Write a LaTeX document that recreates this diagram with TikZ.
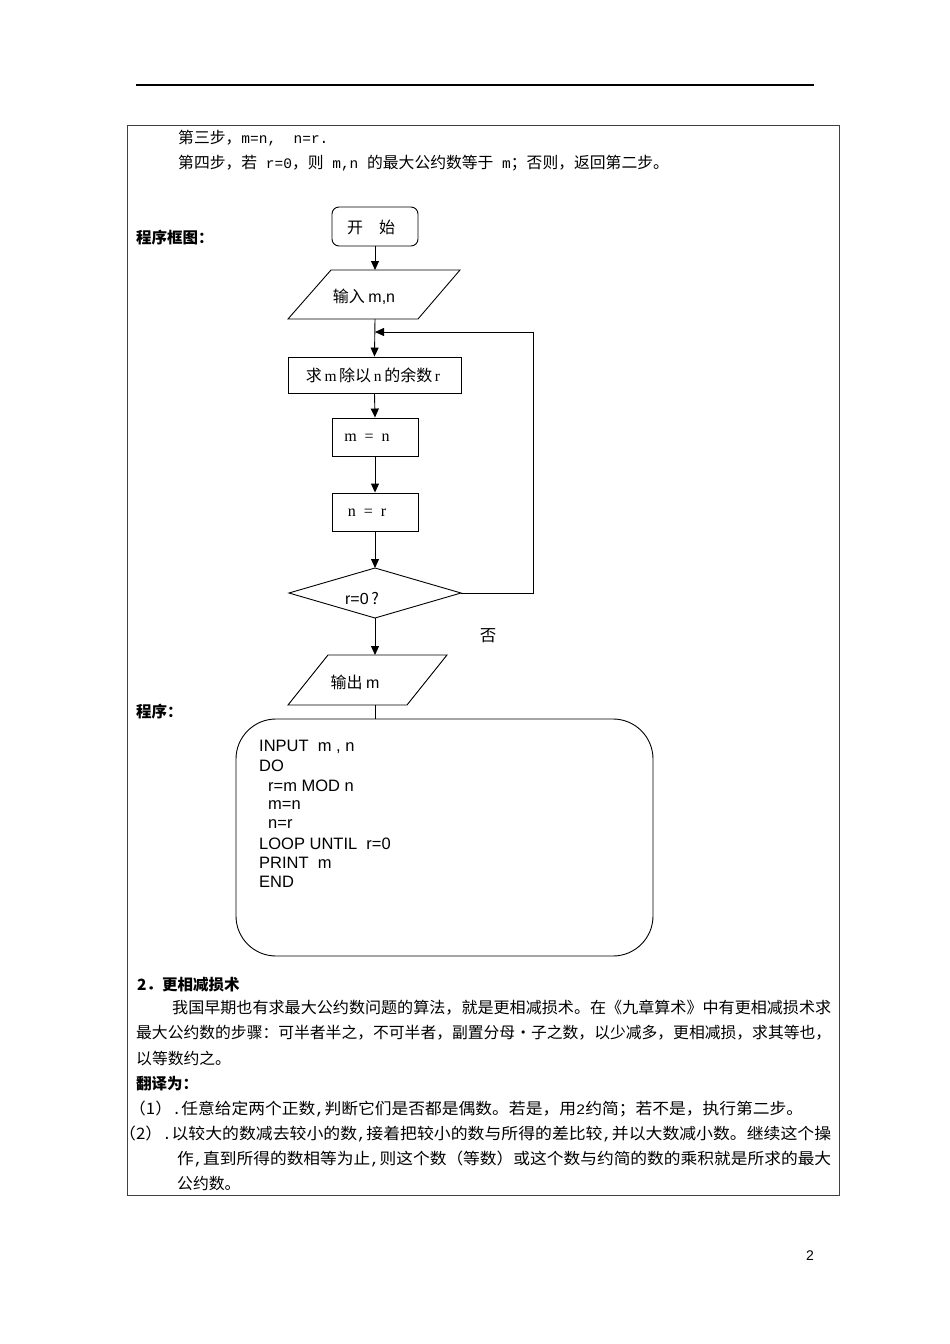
\documentclass[tikz,border=0pt]{standalone}
\usepackage{fontspec}
\setmainfont{Liberation Sans}
\newfontfamily\cjk{Noto Sans CJK SC}
\newfontfamily\lserif{Liberation Serif}
\newfontfamily\lmono{Liberation Mono}
\usetikzlibrary{arrows.meta}
\newsavebox\lbox
\newcommand\fitw[2]{\sbox\lbox{#2}\pgfmathsetmacro\fitr{#1/\the\wd\lbox}\scalebox{\fitr}[1]{\usebox\lbox}}
\newcommand\mylat[1]{{\lmono\fontsize{14.5}{18}\selectfont #1}}
\newcommand\fclat[1]{{\lserif\fontsize{15.5}{18}\selectfont #1}}
\begin{document}
\begin{tikzpicture}[x=1pt,y=-1pt,
  shp/.style={draw, line width=0.9pt},
  box/.style={draw, line width=0.9pt, inner sep=0},
  arr/.style={-{Triangle[length=9pt,width=8pt]}, line width=0.9pt},
  ln/.style={line width=0.9pt},
  cj/.style={font=\cjk\fontsize{15.8}{18}\selectfont, inner sep=0, anchor=west},
  hd/.style={font=\cjk\bfseries\fontsize{15.5}{18}\selectfont, inner sep=0, anchor=west},
  fc/.style={font=\cjk\fontsize{16}{18}\selectfont, inner sep=0},
  code/.style={font=\fontsize{16.5}{19}\selectfont, inner sep=0, anchor=west}]
\useasboundingbox (0,0) rectangle (950,1344);
\fill[white] (0,0) rectangle (950,1344);
% page rule and frame
\draw[line width=1.3pt] (136,85) -- (814,85);
\draw[line width=0.9pt, black!75] (127,125) rectangle (839,1195);
% top text
\node[cj] (s3) at (178,138) {第三步，\mylat{m=n,\ \ n=r.}};
\node[cj] (s4) at (178,163) {第四步，若\mylat{\ r=0}，则\mylat{\ m,n\ }的最大公约数等于\mylat{\ m}；否则，返回第二步。};
\node[hd] (h1) at (136,238) {程序框图：};
% flowchart
\node[box, rounded corners=7pt, minimum width=86pt, minimum height=39pt] (start) at (375,226.5) {};
\node[fc] (startt) at (371,227) {开\hspace{1em}始};
\draw[shp] (331,270) -- (460,270) -- (418,319) -- (288,319) -- cycle;
\coordinate (inN) at (375,270);
\coordinate (inS) at (375,319);
\node[fc] (int) at (364,297) {输入 {\fontsize{16}{18}\selectfont\rmfamily m,n}};
\node[box, minimum width=173pt, minimum height=36pt] (r1) at (374.5,375) {};
\node[fc, font=\cjk\fontsize{16}{18}\selectfont] (r1t) at (373,375) {求\,\fclat{m}\,除以\,\fclat{n}\,的余数\,\fclat{r}};
\node[box, minimum width=86pt, minimum height=38pt] (mn) at (375,437) {};
\node[fc, font=\lserif\fontsize{16}{18}\selectfont] (mnt) at (367,438) {m\ \ =\ \ n};
\node[box, minimum width=86pt, minimum height=38pt] (nr) at (375,512) {};
\node[fc, font=\lserif\fontsize{16}{18}\selectfont] (nrt) at (367,513) {n\ \ =\ \ r};
\draw[shp] (375,568) -- (461,593) -- (375,618) -- (289,593) -- cycle;
\coordinate (dN) at (375,568);
\coordinate (dS) at (375,618);
\coordinate (dE) at (461,593);
\node[fc] (dt) at (362,598) {{\fontsize{16}{18}\selectfont\rmfamily r=0}\,?};
\node[fc, font=\cjk\fontsize{16.5}{18}\selectfont] (no) at (488,636) {否};
\draw[shp] (328,655) -- (447,655) -- (407,705) -- (288,705) -- cycle;
\coordinate (oN) at (375,655);
\coordinate (oS) at (375,705);
\node[fc] (ot) at (355,682) {输出 {\fontsize{16}{18}\selectfont\rmfamily m}};
\coordinate (loopA) at (533,593);
\coordinate (loopB) at (533,332);
\coordinate (loopC) at (375,332);
\draw[arr] (start.south) -- (inN);
\draw[arr] (inS) -- (r1.north);
\draw[arr] (r1.south) -- (mn.north);
\draw[arr] (mn.south) -- (nr.north);
\draw[arr] (nr.south) -- (dN);
\draw[arr] (dS) -- (oN);
\draw[arr] (dE) -- (loopA) -- (loopB) -- (loopC);
% program
\node[hd] (h2) at (136,712) {程序：};
\node[draw, line width=0.9pt, rounded corners=40pt, minimum width=417pt, minimum height=237pt, inner sep=0] (prog) at (444.5,837.5) {};
\draw[ln] (oS) -- (prog.north -| oS);
\node[code] (c1) at (259,747) {INPUT\ \ m , n};
\node[code] (c2) at (259,766) {DO};
\node[code] (c3) at (268,786) {r=m MOD n};
\node[code] (c4) at (268,805) {m=n};
\node[code] (c5) at (268,824) {n=r};
\node[code] (c6) at (259,844) {LOOP UNTIL\ \ r=0};
\node[code] (c7) at (259,863) {PRINT\ \ m};
\node[code] (c8) at (259,882) {END};
% section 2
\node[hd] (h3) at (137,985) {2．更相减损术};
\node[cj] (p1) at (172,1008) {\fitw{659pt}{我国早期也有求最大公约数问题的算法，就是更相减损术。在《九章算术》中有更相减损术求}};
\node[cj] (p2) at (136,1033) {\fitw{695pt}{最大公约数的步骤：可半者半之，不可半者，副置分母•子之数，以少减多，更相减损，求其等也，}};
\node[cj] (p3) at (136,1058) {以等数约之。};
\node[hd] (h4) at (136,1084) {翻译为：};
\node[cj] (i1) at (129,1109) {\fitw{674pt}{（1）\mylat{.}任意给定两个正数\mylat{,}判断它们是否都是偶数。若是，用\mylat{2}约简；若不是，执行第二步。}};
\node[cj] (i2) at (119,1134) {\fitw{712pt}{（2）\mylat{.}以较大的数减去较小的数\mylat{,}接着把较小的数与所得的差比较\mylat{,}并以大数减小数。继续这个操}};
\node[cj] (i3) at (177,1159) {\fitw{654pt}{作\mylat{,}直到所得的数相等为止\mylat{,}则这个数（等数）或这个数与约简的数的乘积就是所求的最大}};
\node[cj] (i4) at (177,1183) {公约数。};
\node[font=\fontsize{14}{16}\selectfont, inner sep=0] (pg) at (810,1256) {2};
\end{tikzpicture}
\end{document}
